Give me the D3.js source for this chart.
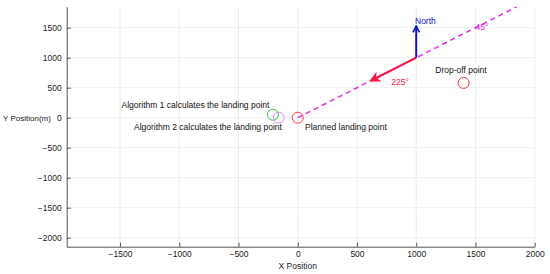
<!DOCTYPE html>
<html>
<head>
<meta charset="utf-8">
<script src="https://cdn.jsdelivr.net/npm/d3@7"></script>
<style>
  body { margin: 0; background: #fff; }
  svg { font-family: "Liberation Sans", Arial, sans-serif; }
</style>
</head>
<body>
<svg id="chart" width="550" height="274"></svg>
<script>
const width = 550, height = 274;
const xTicks = [-1500, -1000, -500, 0, 500, 1000, 1500, 2000];
const yTicks = [-2000, -1500, -1000, -500, 0, 500, 1000, 1500];

// landing / drop points
const pointNames = ['Algorithm 1', 'Algorithm 2', 'Planned', 'Drop-off'];
const pointX = [-210, -160, 0, 1400];
const pointY = [50, 0, 0, 580];
const pointColors = ['#33cc33', '#dd88ee', '#ff3344', '#ee3344'];

// direction line and arrows
const lineStart = [0, 0], lineEnd = [1850, 1850];
const arrowOrigin = [1000, 1000];
const northTip = [1000, 1530];
const windTip = [620, 620];

let x = d3.scaleLinear().domain([-1950, 2000]).range([66.7, 534.7]);
let y = d3.scaleLinear().domain([-2150, 1850]).range([246.7, 6.7]);

let chart = d3.select("#chart");

// grid
chart.append("g").selectAll("line")
  .data(xTicks)
  .enter().append("line")
  .attr("x1", d => x(d)).attr("x2", d => x(d))
  .attr("y1", y.range()[0]).attr("y2", y.range()[1])
  .attr("stroke", "#e8e8e8").attr("stroke-width", 0.8);
chart.append("g").selectAll("line")
  .data(yTicks)
  .enter().append("line")
  .attr("y1", d => y(d)).attr("y2", d => y(d))
  .attr("x1", x.range()[0]).attr("x2", x.range()[1])
  .attr("stroke", "#e8e8e8").attr("stroke-width", 0.8);

let fmt = d => d < 0 ? "\u2212" + Math.abs(d) : String(d);

let xAxis = d3.axisBottom(x).tickValues(xTicks).tickFormat(fmt).tickSizeInner(-4).tickSizeOuter(0).tickPadding(4);
let yAxis = d3.axisLeft(y).tickValues(yTicks).tickFormat(fmt).tickSizeInner(-4).tickSizeOuter(0).tickPadding(5);

let gx = chart.append("g")
  .attr("transform", `translate(0, ${y.range()[0]})`)
  .call(xAxis);
let gy = chart.append("g")
  .attr("transform", `translate(${x.range()[0]}, 0)`)
  .call(yAxis);
[gx, gy].forEach(g => {
  g.select(".domain").attr("stroke", "#555").attr("stroke-width", 1);
  g.selectAll(".tick line").attr("stroke", "#555");
  g.selectAll(".tick text").attr("font-size", 8.5).attr("fill", "#222")
    .attr("font-family", "Liberation Sans, Arial, sans-serif");
});

chart.append("text")
  .attr("x", x(0)).attr("y", 269)
  .attr("text-anchor", "middle").attr("font-size", 8.5).attr("fill", "#222")
  .text("X Position");
chart.append("text")
  .attr("x", 3).attr("y", y(0) + 3)
  .attr("font-size", 8).attr("fill", "#222")
  .text("Y Position(m)");

// markers
let defs = chart.append("defs");
defs.append("marker")
  .attr("id", "redHead").attr("viewBox", "0 0 10 10")
  .attr("refX", 8).attr("refY", 5)
  .attr("markerWidth", 5.5).attr("markerHeight", 5.5)
  .attr("orient", "auto").attr("markerUnits", "strokeWidth")
  .append("path").attr("d", "M0,0 L10,5 L0,10 L3,5 Z").attr("fill", "#ff1144");
defs.append("marker")
  .attr("id", "blueHead").attr("viewBox", "0 0 10 10")
  .attr("refX", 9).attr("refY", 5)
  .attr("markerWidth", 4).attr("markerHeight", 4)
  .attr("orient", "auto").attr("markerUnits", "strokeWidth")
  .append("path").attr("d", "M1,1 L9,5 L1,9").attr("fill", "none")
  .attr("stroke", "#1111cc").attr("stroke-width", 2);

defs.append("clipPath").attr("id", "plotClip")
  .append("rect")
  .attr("x", x.range()[0]).attr("y", y.range()[1])
  .attr("width", x.range()[1] - x.range()[0])
  .attr("height", y.range()[0] - y.range()[1]);

// dashed direction line
chart.append("line")
  .attr("clip-path", "url(#plotClip)")
  .attr("x1", x(lineStart[0])).attr("y1", y(lineStart[1]))
  .attr("x2", x(lineEnd[0])).attr("y2", y(lineEnd[1]))
  .attr("stroke", "#ee22ee").attr("stroke-width", 1.5)
  .attr("stroke-dasharray", "5,4");

// arrows
chart.append("line")
  .attr("x1", x(arrowOrigin[0])).attr("y1", y(arrowOrigin[1]))
  .attr("x2", x(windTip[0])).attr("y2", y(windTip[1]))
  .attr("stroke", "#ff1144").attr("stroke-width", 2)
  .attr("marker-end", "url(#redHead)");
chart.append("line")
  .attr("x1", x(arrowOrigin[0])).attr("y1", y(arrowOrigin[1]))
  .attr("x2", x(northTip[0])).attr("y2", y(northTip[1]))
  .attr("stroke", "#1111cc").attr("stroke-width", 2)
  .attr("marker-end", "url(#blueHead)");

// circles
chart.append("g").selectAll("circle")
  .data(pointNames)
  .enter().append("circle")
  .attr("cx", (d, i) => x(pointX[i]))
  .attr("cy", (d, i) => y(pointY[i]))
  .attr("r", 5.5)
  .attr("fill", "none")
  .attr("stroke", (d, i) => pointColors[i])
  .attr("stroke-width", 1);

// labels
let labels = [
  { t: "Algorithm 1 calculates the landing point", x: 121.5, y: 107.5, c: "#111", a: "start" },
  { t: "Algorithm 2 calculates the landing point", x: 134, y: 130, c: "#111", a: "start" },
  { t: "Planned landing point", x: 305, y: 130, c: "#111", a: "start" },
  { t: "Drop-off point", x: 461, y: 73, c: "#111", a: "middle" },
  { t: "North", x: 415, y: 24, c: "#1111cc", a: "start" },
  { t: "225°", x: 400, y: 85, c: "#ff1144", a: "middle" },
  { t: "45°", x: 482, y: 30, c: "#ee22ee", a: "middle" }
];
chart.append("g").selectAll("text")
  .data(labels)
  .enter().append("text")
  .attr("x", d => d.x).attr("y", d => d.y)
  .attr("text-anchor", d => d.a)
  .attr("font-size", 8.5)
  .attr("fill", d => d.c)
  .text(d => d.t);
</script>
</body>
</html>
